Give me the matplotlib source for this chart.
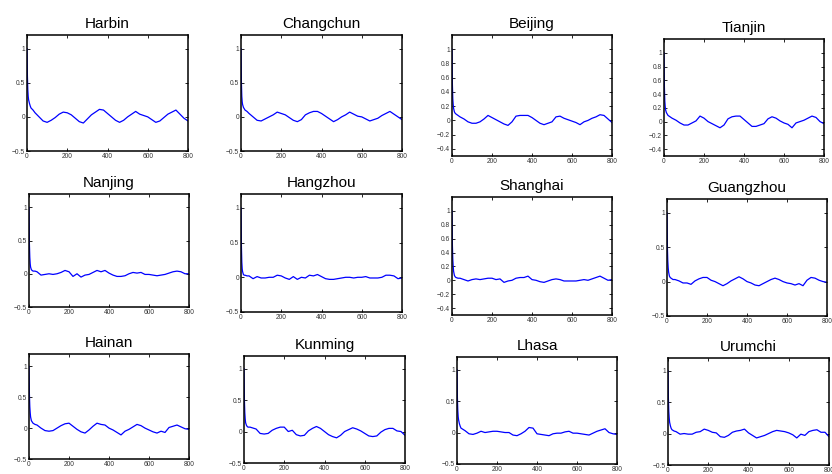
import numpy as np
import matplotlib
matplotlib.use("Agg")
import matplotlib.pyplot as plt

plt.rcParams['font.family'] = ['Liberation Sans', 'DejaVu Sans']

# Lags at which the autocorrelation values are tabulated
lags = [0, 2, 4, 6, 8, 12, 16, 20, 30, 40] + list(range(60, 801, 20))

cities = ["Harbin", "Changchun", "Beijing", "Tianjin",
          "Nanjing", "Hangzhou", "Shanghai", "Guangzhou",
          "Hainan", "Kunming", "Lhasa", "Urumchi"]

harbin = [1, 0.6, 0.4, 0.3, 0.25, 0.2, 0.16, 0.13, 0.1, 0.06,
          0.0, -0.06, -0.08, -0.05, -0.01, 0.04, 0.07, 0.06, 0.03, -0.02,
          -0.07, -0.09, -0.03, 0.03, 0.07, 0.11, 0.1, 0.05, 0.0, -0.05,
          -0.08, -0.05, 0.0, 0.04, 0.08, 0.04, 0.02, 0.0, -0.04, -0.08,
          -0.06, -0.01, 0.04, 0.07, 0.1, 0.04, -0.02, -0.06]
changchun = [1, 0.5, 0.3, 0.22, 0.18, 0.14, 0.12, 0.1, 0.08, 0.05,
             0.0, -0.05, -0.06, -0.03, 0.0, 0.03, 0.07, 0.05, 0.03, -0.01,
             -0.05, -0.07, -0.04, 0.03, 0.06, 0.08, 0.08, 0.05, 0.01, -0.03,
             -0.07, -0.04, 0.0, 0.03, 0.07, 0.04, 0.01, 0.0, -0.03, -0.06,
             -0.04, -0.02, 0.02, 0.05, 0.08, 0.04, 0.0, -0.04]
beijing = [1, 0.5, 0.3, 0.22, 0.17, 0.12, 0.1, 0.09, 0.07, 0.05,
           0.02, -0.02, -0.04, -0.04, -0.02, 0.02, 0.07, 0.04, 0.01, -0.02,
           -0.05, -0.07, -0.02, 0.06, 0.07, 0.07, 0.07, 0.04, 0.0, -0.04,
           -0.06, -0.04, -0.02, 0.05, 0.06, 0.03, 0.01, -0.01, -0.03, -0.06,
           -0.02, 0.0, 0.03, 0.05, 0.08, 0.07, 0.02, -0.03]
tianjin = [1, 0.5, 0.3, 0.22, 0.17, 0.13, 0.11, 0.09, 0.07, 0.05,
           0.02, -0.02, -0.05, -0.05, -0.02, 0.01, 0.08, 0.05, 0.0, -0.03,
           -0.06, -0.09, -0.05, 0.04, 0.07, 0.08, 0.08, 0.03, -0.02, -0.07,
           -0.07, -0.05, -0.03, 0.04, 0.07, 0.05, 0.01, -0.02, -0.04, -0.09,
           -0.02, 0.0, 0.02, 0.05, 0.08, 0.06, 0.0, -0.03]
nanjing = [1, 0.45, 0.25, 0.15, 0.1, 0.06, 0.05, 0.04, 0.04, 0.03,
           -0.02, -0.01, 0.0, -0.01, 0.0, 0.02, 0.05, 0.03, -0.04, 0.0,
           -0.05, -0.02, -0.01, 0.02, 0.05, 0.03, 0.05, 0.01, -0.02, -0.04,
           -0.04, -0.03, 0.0, 0.02, 0.01, 0.02, -0.01, -0.01, -0.02, -0.03,
           -0.02, -0.01, 0.01, 0.03, 0.04, 0.03, 0.0, 0.0]
hangzhou = [1, 0.45, 0.22, 0.12, 0.08, 0.04, 0.03, 0.03, 0.02, 0.02,
            -0.02, 0.01, -0.01, -0.01, 0.0, 0.0, 0.03, 0.02, -0.01, -0.03,
            0.01, -0.03, 0.0, -0.01, 0.03, 0.02, 0.04, 0.01, -0.02, -0.03,
            -0.03, -0.02, -0.01, 0.0, 0.0, -0.01, 0.0, 0.0, 0.01, -0.01,
            -0.01, -0.01, 0.0, 0.03, 0.03, 0.02, -0.02, -0.01]
shanghai = [1, 0.5, 0.3, 0.2, 0.13, 0.07, 0.05, 0.04, 0.03, 0.03,
            0.01, -0.01, 0.01, 0.02, 0.01, 0.02, 0.03, 0.03, 0.01, 0.02,
            -0.03, -0.01, 0.0, 0.03, 0.04, 0.04, 0.06, 0.01, 0.0, -0.02,
            -0.03, -0.01, 0.01, 0.02, 0.01, -0.01, -0.01, -0.01, -0.01, 0.0,
            0.01, 0.0, 0.02, 0.04, 0.06, 0.03, 0.0, 0.01]
guangzhou = [1, 0.5, 0.3, 0.2, 0.14, 0.08, 0.06, 0.05, 0.03, 0.03,
             0.01, -0.02, -0.02, -0.04, 0.01, 0.04, 0.06, 0.06, 0.02, 0.0,
             -0.03, -0.06, -0.03, 0.01, 0.04, 0.07, 0.04, 0.0, -0.02, -0.05,
             -0.06, -0.03, 0.0, 0.03, 0.05, 0.03, 0.0, -0.02, -0.03, -0.05,
             -0.03, -0.06, 0.02, 0.06, 0.05, 0.02, 0.0, -0.01]
hainan = [1, 0.55, 0.35, 0.25, 0.18, 0.12, 0.1, 0.08, 0.06, 0.05,
          0.0, -0.04, -0.05, -0.04, 0.0, 0.04, 0.07, 0.08, 0.03, -0.02,
          -0.06, -0.08, -0.03, 0.03, 0.08, 0.06, 0.05, 0.0, -0.03, -0.07,
          -0.11, -0.05, -0.02, 0.02, 0.06, 0.04, 0.0, -0.03, -0.06, -0.08,
          -0.05, -0.07, 0.01, 0.03, 0.05, 0.02, -0.01, -0.02]
kunming = [1, 0.5, 0.3, 0.2, 0.14, 0.1, 0.08, 0.07, 0.07, 0.06,
           0.04, -0.03, -0.04, -0.03, 0.02, 0.05, 0.07, 0.07, 0.0, 0.02,
           -0.05, -0.07, -0.06, 0.01, 0.05, 0.08, 0.05, 0.0, -0.05, -0.08,
           -0.1, -0.06, 0.0, 0.03, 0.06, 0.04, 0.01, -0.03, -0.07, -0.08,
           -0.07, -0.01, 0.03, 0.05, 0.05, 0.01, 0.0, -0.06]
lhasa = [1, 0.55, 0.35, 0.25, 0.2, 0.14, 0.1, 0.07, 0.05, 0.03,
         -0.02, -0.03, -0.01, 0.02, 0.0, 0.01, 0.02, 0.02, 0.01, 0.0,
         0.0, -0.04, -0.05, -0.02, 0.02, 0.08, 0.07, -0.02, -0.03, -0.04,
         -0.05, -0.02, -0.01, -0.01, 0.01, 0.02, -0.01, -0.01, -0.02, -0.03,
         -0.04, -0.01, 0.02, 0.04, 0.06, 0.0, -0.02, -0.03]
urumchi = [1, 0.55, 0.35, 0.25, 0.18, 0.12, 0.08, 0.06, 0.04, 0.03,
           -0.01, 0.0, -0.01, -0.01, 0.02, 0.03, 0.07, 0.05, 0.02, 0.01,
           -0.05, -0.06, -0.03, 0.02, 0.04, 0.05, 0.07, 0.01, -0.03, -0.07,
           -0.05, -0.03, 0.0, 0.03, 0.05, 0.04, 0.03, 0.01, -0.02, -0.07,
           -0.01, -0.03, 0.03, 0.05, 0.06, 0.02, 0.02, -0.05]

series = [harbin, changchun, beijing, tianjin,
          nanjing, hangzhou, shanghai, guangzhou,
          hainan, kunming, lhasa, urumchi]

x_ticks = [0, 200, 400, 600, 800]
y_ticks_coarse = [-0.5, 0, 0.5, 1]
y_ticks_fine = [-0.4, -0.2, 0, 0.2, 0.4, 0.6, 0.8, 1]
fine_tick_cities = {"Beijing", "Tianjin", "Shanghai"}

# Panel boxes in pixels: (left, top, right, bottom)
W, H = 832, 474
boxes = [(27, 35, 188, 151), (241, 35, 402, 151), (452, 35, 612, 156), (664, 39, 824, 156),
         (29, 194, 189, 307), (241, 194, 402, 312), (452, 197, 612, 315), (667, 199, 827, 316),
         (29, 354, 189, 459), (244, 356, 405, 463), (457, 357, 617, 464), (668, 358, 829, 465)]

fig = plt.figure(figsize=(W / 100, H / 100), dpi=100)
fig.patch.set_facecolor("white")

for name, vals, (l, t, r, b) in zip(cities, series, boxes):
    ax = fig.add_axes([l / W, 1 - b / H, (r - l) / W, (b - t) / H])
    ax.plot(lags, vals, color="#0000ff", lw=0.9)
    ax.set_xlim(0, 800)
    ax.set_ylim(-0.5, 1.2)
    ax.set_xticks(x_ticks)
    if name in fine_tick_cities:
        ax.set_yticks(y_ticks_fine)
        ax.set_yticklabels(["\u22120.4", "\u22120.2", "0", "0.2", "0.4", "0.6", "0.8", "1"])
    else:
        ax.set_yticks(y_ticks_coarse)
        ax.set_yticklabels(["\u22120.5", "0", "0.5", "1"])
    ax.set_xticklabels([str(v) for v in x_ticks])
    ax.tick_params(direction="in", length=2.5, width=0.6, labelsize=4.8,
                   labelcolor="#333333", top=True, right=True, pad=1.5)
    for sp in ax.spines.values():
        sp.set_linewidth(1.1)
        sp.set_color("black")
    ax.set_title(name, fontsize=11, pad=5)

fig.savefig("out.png", dpi=100, facecolor="white")
